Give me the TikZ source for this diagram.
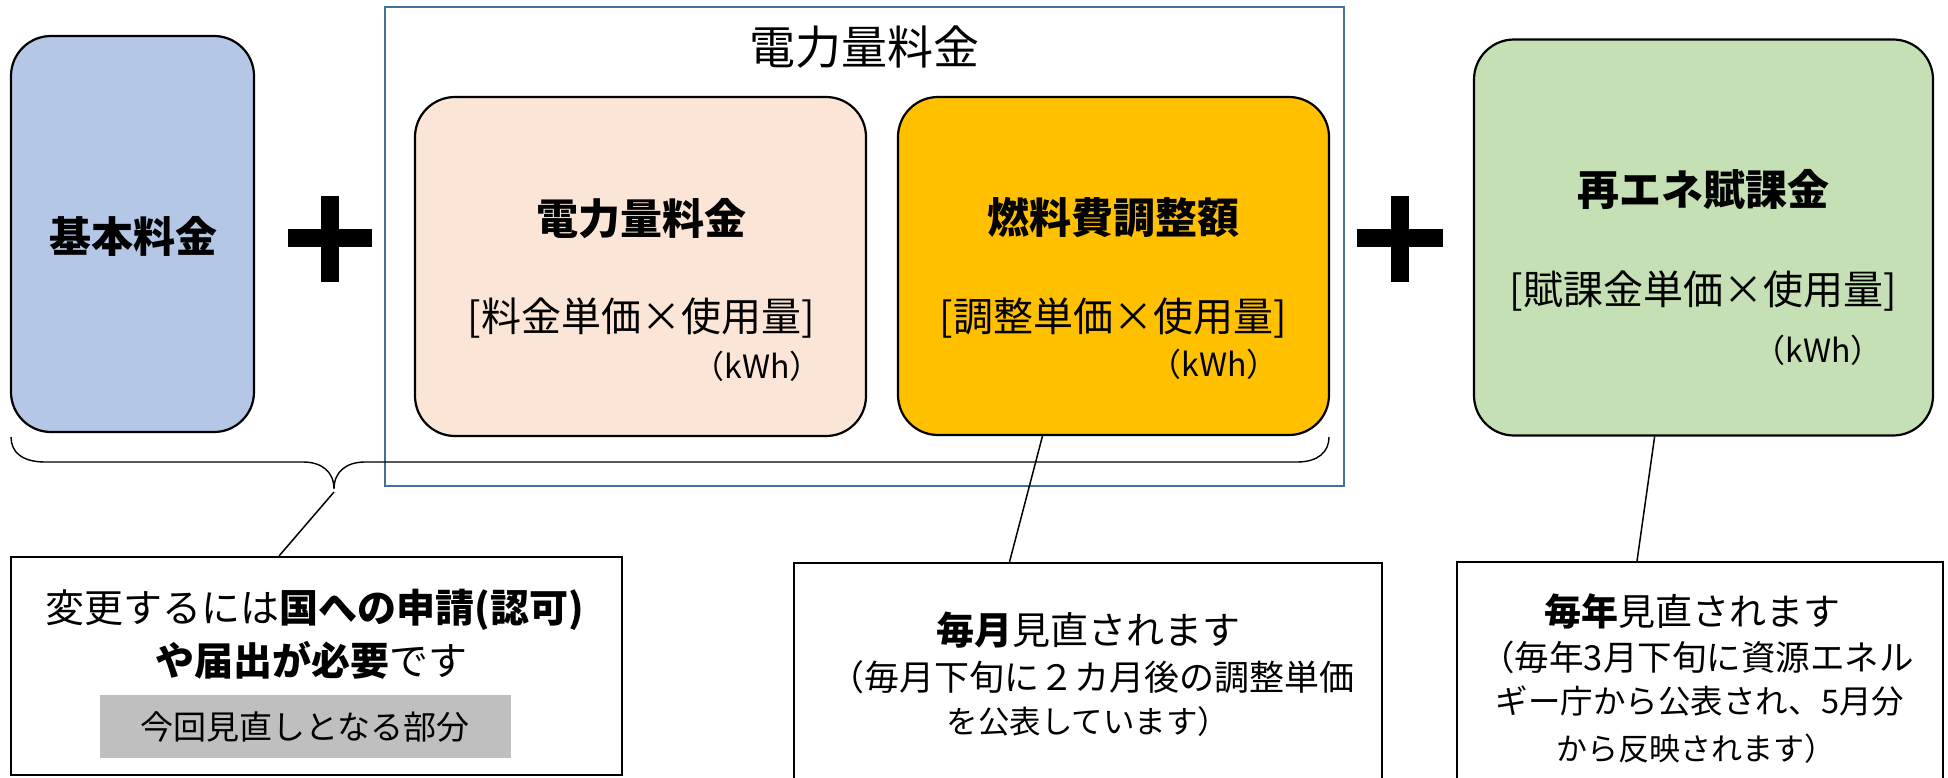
\documentclass[tikz,border=0pt]{standalone}
\usepackage{fontspec}
\setmainfont{Noto Sans CJK JP}
\usetikzlibrary{calc}
\definecolor{kihonblue}{HTML}{B4C7E7}
\definecolor{denpink}{HTML}{FBE5D6}
\definecolor{fuelorange}{HTML}{FFC000}
\definecolor{renegreen}{HTML}{C5E0B4}
\definecolor{frameblue}{HTML}{41719C}
\definecolor{notegray}{HTML}{BFBFBF}
\tikzset{
  rbox/.style={draw=black, line width=2.2pt, rounded corners=40pt, inner sep=0pt},
  callout/.style={draw=black, line width=2.2pt, inner sep=0pt, fill=white},
  conn/.style={draw=black, line width=1.5pt},
  txt/.style={inner sep=0pt, anchor=center, text=black},
  ttl/.style={txt, font=\fontsize{42}{50}\selectfont\bfseries},
  frm/.style={txt, font=\fontsize{40}{48}\selectfont},
  unit/.style={txt, font=\fontsize{32}{38}\selectfont},
  plusbar/.style={fill=black, draw=none},
}
\begin{document}
\begin{tikzpicture}[x=1pt,y=-1pt]
\useasboundingbox (0,0) rectangle (1948,778);
\clip (0,0) rectangle (1948,778);
\fill[white] (0,0) rectangle (1948,778);

% outer frame
\node[draw=frameblue, line width=2pt, minimum width=959pt, minimum height=479pt, inner sep=0pt] (frame) at (864.5,246.5) {};
\node[txt, font=\fontsize{46}{54}\selectfont] (frametitle) at (864,47) {電力量料金};

% top boxes
\node[rbox, fill=kihonblue, minimum width=243pt, minimum height=396pt] (kihon) at (132.5,234) {};
\node[ttl] (kihont) at (133,236) {基本料金};

\node[rbox, fill=denpink, minimum width=451pt, minimum height=339pt] (denryo) at (640.5,266.5) {};
\node[ttl] (denryot) at (641,219) {電力量料金};
\node[frm] (denryof) at (641,318) {[料金単価×使用量]};
\node[unit] (denryou) at (757,366) {（kWh）};

\node[rbox, fill=fuelorange, minimum width=431pt, minimum height=338pt] (nenryo) at (1113.5,266) {};
\node[ttl] (nenryot) at (1113,218) {燃料費調整額};
\node[frm] (nenryof) at (1113,318) {[調整単価×使用量]};
\node[unit] (nenryou) at (1214,364) {（kWh）};

\node[rbox, fill=renegreen, minimum width=459pt, minimum height=396pt] (saiene) at (1703.5,237.5) {};
\node[ttl] (saienet) at (1703,190) {再エネ賦課金};
\node[frm] (saienef) at (1703,291) {[賦課金単価×使用量]};
\node[unit] (saieneu) at (1818,350) {（kWh）};

% plus signs
\node[plusbar, minimum width=84pt, minimum height=18pt, inner sep=0pt] (plusah) at (330,238) {};
\node[plusbar, minimum width=18pt, minimum height=86pt, inner sep=0pt] (plusav) at (330,239) {};
\node[plusbar, minimum width=86pt, minimum height=18pt, inner sep=0pt] (plusbh) at (1400,238) {};
\node[plusbar, minimum width=18pt, minimum height=86pt, inner sep=0pt] (plusbv) at (1400,239) {};

% brace
\coordinate (braceL) at (11,437);
\coordinate (braceR) at (1329,437);
\coordinate (braceTip) at (334,489);
\draw[line width=1.4pt, black]
  (braceL) .. controls (11,452) and (22,462) .. (45,462)
  -- (303,462) .. controls (322,462) and (334,472) .. (braceTip)
  .. controls (334,472) and (346,462) .. (365,462)
  -- (1297,462) .. controls (1318,462) and (1329,452) .. (braceR);

% callout boxes
\node[callout, minimum width=611pt, minimum height=218pt] (note1) at (316.5,666) {};
\node[txt, font=\fontsize{39}{47}\selectfont] (note1a) at (315,610) {変更するには\textbf{国への申請(認可)}};
\node[txt, font=\fontsize{39}{47}\selectfont] (note1b) at (311,660) {\textbf{や届出が必要}です};
\node[fill=notegray, minimum width=411pt, minimum height=63pt, inner sep=0pt] (graybox) at (305.5,726.5) {};
\node[txt, font=\fontsize{33}{40}\selectfont] (grayt) at (305,727) {今回見直しとなる部分};

\node[callout, minimum width=588pt, minimum height=300pt] (note2) at (1088,713) {};
\node[txt, font=\fontsize{38}{46}\selectfont] (note2a) at (1088,630) {\textbf{毎月}見直されます};
\node[txt, font=\fontsize{35}{42}\selectfont] (note2b) at (1092,677) {（毎月下旬に２カ月後の調整単価};
\node[txt, font=\fontsize{31.5}{38}\selectfont] (note2c) at (1088,722) {を公表しています）};

\node[callout, minimum width=486pt, minimum height=300pt] (note3) at (1700,712) {};
\node[txt, font=\fontsize{37}{45}\selectfont] (note3a) at (1692,611) {\textbf{毎年}見直されます};
\node[txt, font=\fontsize{34.5}{42}\selectfont] (note3b) at (1697,657) {（毎年3月下旬に資源エネル};
\node[txt, font=\fontsize{32.5}{40}\selectfont] (note3c) at (1700,701) {ギー庁から公表され、5月分};
\node[txt, font=\fontsize{31}{38}\selectfont] (note3d) at (1696,749) {から反映されます）};

% connectors
\draw[conn] (braceTip) ++(0,3) -- ($(note1.north west)!0.439!(note1.north east)$);
\draw[conn] ($(nenryo.south west)!0.336!(nenryo.south east)$) -- ($(note2.north west)!0.367!(note2.north east)$);
\draw[conn] ($(saiene.south west)!0.394!(saiene.south east)$) -- ($(note3.north west)!0.371!(note3.north east)$);
\end{tikzpicture}
\end{document}
